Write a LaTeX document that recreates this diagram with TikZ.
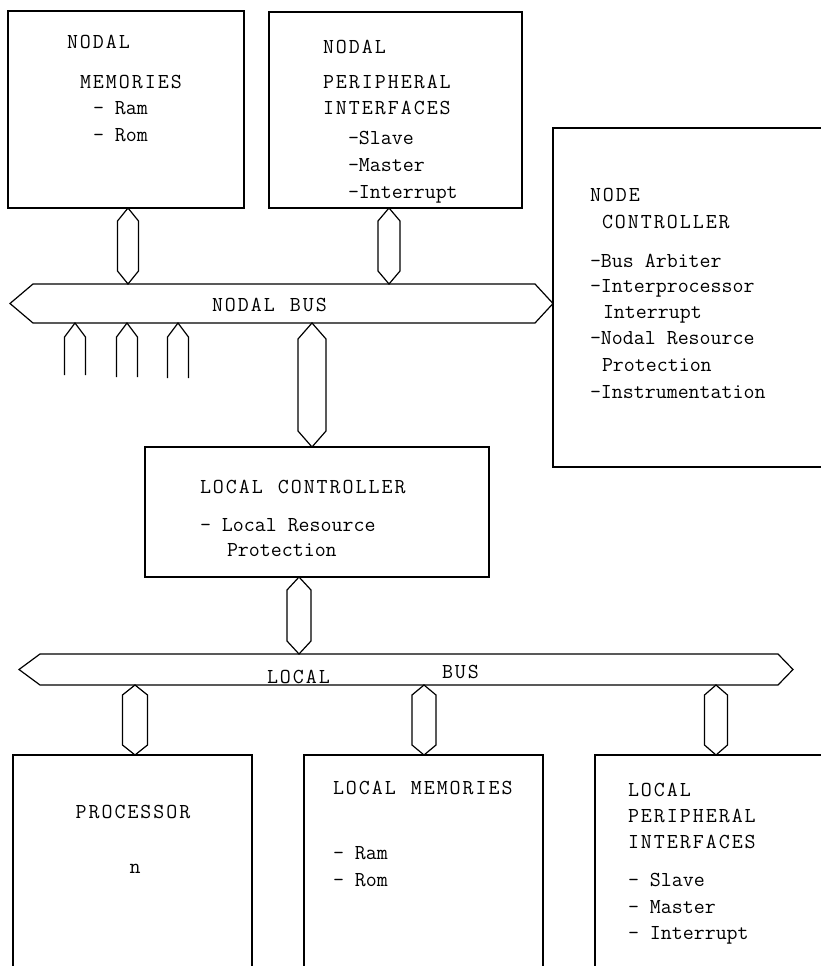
\documentclass[tikz,border=0pt]{standalone}
\usepackage{fontspec}
\usetikzlibrary{calc}
\makeatletter
\newcommand\lsp[1]{\lsp@#1\@nil}
\def\lsp@#1{\ifx#1\@nil\else#1\kern2pt\expandafter\lsp@\fi}
\makeatother
\tikzset{
  box/.style={draw, line width=1.2pt, inner sep=0pt, outer sep=0pt},
  busnode/.style={inner sep=0pt, outer sep=0pt},
  conn/.style={draw, line width=1.2pt, line join=miter},
  lab/.style={font=\ttfamily\fontsize{21.3}{26}\selectfont, inner sep=0pt, outer sep=0pt,
              text height=13pt, text depth=0pt, anchor=west},
  caps/.style={lab},
}
\newcommand\busconn[5]{%
  \draw[conn] let \p1=(#2.south), \p2=(#3.north) in
    (#1pt,\y1) -- (#1pt-#4pt,\y1-#5pt) -- (#1pt-#4pt,\y2+#5pt) -- (#1pt,\y2)
    -- (#1pt+#4pt,\y2+#5pt) -- (#1pt+#4pt,\y1-#5pt) -- cycle;}
\newcommand\mkstub[2]{%
  \draw[conn] let \p1=(nbus.south), \p2=(#2) in
    (#1pt-10.5pt,\y2) -- (#1pt-10.5pt,\y1-14pt) -- (#1pt,\y1)
    -- (#1pt+10.5pt,\y1-14pt) -- (#1pt+10.5pt,\y2);}
\begin{document}
\begin{tikzpicture}[x=1pt, y=-1pt]
\useasboundingbox (0,0) rectangle (821,966);
% boxes
\node[box, minimum width=236pt, minimum height=197pt] (nm) at (126,109.5) {};
\node[box, minimum width=253pt, minimum height=196pt] (np) at (395.5,110) {};
\node[box, minimum width=287pt, minimum height=339pt] (nc) at (696.5,297.5) {};
\node[box, minimum width=344pt, minimum height=130pt] (lc) at (317,512) {};
\node[box, minimum width=239pt, minimum height=230pt] (pr) at (132.5,870) {};
\node[box, minimum width=239pt, minimum height=230pt] (lm) at (423.5,870) {};
\node[box, minimum width=245pt, minimum height=230pt] (lp) at (717.5,870) {};
% buses
\node[busnode, minimum width=543pt, minimum height=39pt] (nbus) at (281.5,303.5) {};
\draw[conn] ([xshift=23pt]nbus.north west) -- ([xshift=-18pt]nbus.north east) -- (nbus.east)
  -- ([xshift=-18pt]nbus.south east) -- ([xshift=23pt]nbus.south west) -- (nbus.west) -- cycle;
\node[busnode, minimum width=774pt, minimum height=31pt] (lbus) at (406,669.5) {};
\draw[conn] ([xshift=21pt]lbus.north west) -- ([xshift=-15pt]lbus.north east) -- (lbus.east)
  -- ([xshift=-15pt]lbus.south east) -- ([xshift=21pt]lbus.south west) -- (lbus.west) -- cycle;
% connectors
\busconn{128}{nm}{nbus}{10.5}{13}
\busconn{389}{np}{nbus}{11}{13}
\busconn{312}{nbus}{lc}{14}{16}
\busconn{299}{lc}{lbus}{12}{13}
\busconn{135}{lbus}{pr}{12.5}{10}
\busconn{424}{lbus}{lm}{12}{10}
\busconn{716}{lbus}{lp}{11.5}{10}
% open stubs below nodal bus
\coordinate (s1) at (75,375);
\coordinate (s2) at (127,377);
\coordinate (s3) at (178,378);
\mkstub{75}{s1}
\mkstub{127}{s2}
\mkstub{178}{s3}
% texts: nodal memories
\node[caps] (nmA) at (67,42) {\lsp{NODAL}};
\node[caps] (nmB) at (80,82) {\lsp{MEMORIES}};
\node[lab] (nmC) at (93,108) {- Ram};
\node[lab] (nmD) at (93,135) {- Rom};
% nodal peripheral interfaces
\node[caps] (npA) at (323,47) {\lsp{NODAL}};
\node[caps] (npB) at (323,82) {\lsp{PERIPHERAL}};
\node[caps] (npC) at (323,108) {\lsp{INTERFACES}};
\node[lab] (npD) at (348,138) {-Slave};
\node[lab] (npE) at (348,165) {-Master};
\node[lab] (npF) at (348,192) {-Interrupt};
% node controller
\node[caps] (ncA) at (590,195) {\lsp{NODE}};
\node[caps] (ncB) at (602,222) {\lsp{CONTROLLER}};
\node[lab] (ncC) at (590,261) {-Bus Arbiter};
\node[lab] (ncD) at (590,286) {-Interprocessor};
\node[lab] (ncE) at (603,312) {Interrupt};
\node[lab] (ncF) at (590,338) {-Nodal Resource};
\node[lab] (ncG) at (602,365) {Protection};
\node[lab] (ncH) at (590,392) {-Instrumentation};
% bus labels
\node[caps] (nbusl) at (212,305) {\lsp{NODAL~BUS}};
\node[caps] (lbusA) at (267,677) {\lsp{LOCAL}};
\node[caps] (lbusB) at (442,672) {\lsp{BUS}};
% local controller
\node[caps] (lcA) at (200,487) {\lsp{LOCAL~CONTROLLER}};
\node[lab] (lcB) at (200,525) {- Local Resource};
\node[lab] (lcC) at (227,550) {Protection};
% processor
\node[caps, anchor=center] (prA) at (134,812) {\lsp{PROCESSOR}};
\node[lab, anchor=center] (prB) at (135,867) {n};
% local memories
\node[caps] (lmA) at (333,788) {\lsp{LOCAL~MEMORIES}};
\node[lab] (lmB) at (333,853) {- Ram};
\node[lab] (lmC) at (333,880) {- Rom};
% local peripheral interfaces
\node[caps] (lpA) at (628,790) {\lsp{LOCAL}};
\node[caps] (lpB) at (628,816) {\lsp{PERIPHERAL}};
\node[caps] (lpC) at (628,842) {\lsp{INTERFACES}};
\node[lab] (lpD) at (628,880) {- Slave};
\node[lab] (lpE) at (628,907) {- Master};
\node[lab] (lpF) at (628,933) {- Interrupt};
\end{tikzpicture}
\end{document}
